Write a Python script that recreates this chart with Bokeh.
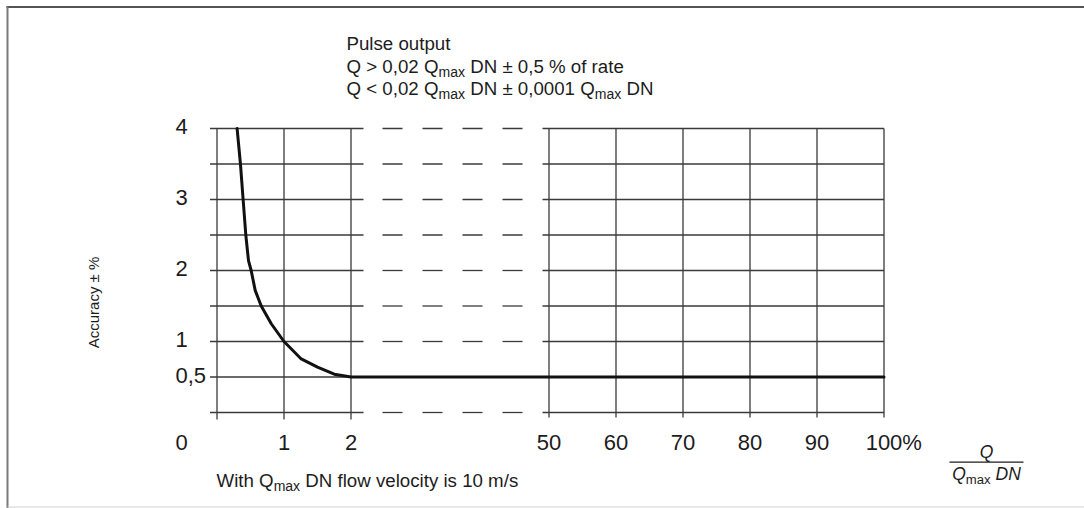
import numpy as np
from bokeh.plotting import figure
from bokeh.models import Range1d, ColumnDataSource
from bokeh.embed import file_html
from bokeh.resources import INLINE
from bokeh.core.properties import value

# ---------------------------------------------------------------- data
# Measuring accuracy (± % of rate) against flow Q as % of Qmax DN
flow_pct = [0.30, 0.35, 0.39, 0.43, 0.47, 0.51, 0.57, 0.66, 0.81, 1.0,
            1.25, 1.5, 1.75, 2.0, 50.0, 100.0]
accuracy_pct = [4.0, 3.5, 3.0, 2.5, 2.14, 2.0, 1.72, 1.5, 1.25, 1.0,
                0.76, 0.64, 0.54, 0.5, 0.5, 0.5]

accuracy_rows = [0, 0.5, 1, 1.5, 2, 2.5, 3, 3.5, 4]
y_ticks = [4, 3, 2, 1, 0.5]
y_tick_labels = ["4", "3", "2", "1", "0,5"]
low_flow_grid = [0, 1, 2]
low_flow_ticks = [1, 2]
low_flow_labels = ["1", "2"]
high_flow_ticks = [50, 60, 70, 80, 90, 100]
high_flow_labels = ["50", "60", "70", "80", "90", "100"]
origin_label = "0"

title_lines = [
    [("Pulse output", "n")],
    [("Q > 0,02 Q", "n"), ("max", "sub"), (" DN ± 0,5 % of rate", "n")],
    [("Q < 0,02 Q", "n"), ("max", "sub"), (" DN ± 0,0001 Q", "n"),
     ("max", "sub"), (" DN", "n")],
]
footnote = [("With Q", "n"), ("max", "sub"), (" DN flow velocity is 10 m/s", "n")]
y_title = "Accuracy ± %"

# ---------------------------------------------------------------- layout
W, H = 1084, 508
X_ZERO_PX, CELL_PX = 216.5, 67    # flow 0 and width of one grid cell
Y_ZERO_PX, UNIT_PX = 412, 71      # accuracy 0 and pixels per 1 %
LOW_END, HIGH_START, HIGH_STEP = 2.0, 50.0, 10.0
HIGH_START_POS = 332 / 67         # chart position of the 50 % column

FONT = "Liberation Sans"
INK = "#1c1c1c"
GRID = "#3a3a3a"
GRID_W = 1.3
BASE = 18.7
TICK = 22
SUB_SCALE, SUB_DROP = 0.75, 0.2
MID = 0.35                        # em-box middle above the baseline


def xpos(q):
    """Broken flow axis: 0..2 % on the left, 50..100 % on the right."""
    q = np.asarray(q, dtype=float)
    return np.where(q <= LOW_END, q, HIGH_START_POS + (q - HIGH_START) / HIGH_STEP)


def sx(px):
    return (px - X_ZERO_PX) / CELL_PX


def sy(py):
    return (Y_ZERO_PX - py) / UNIT_PX


# Arial / Liberation Sans advance widths (1/1000 em)
ADV = {" ": 278, "%": 889, ",": 278, ".": 278, "/": 278, "<": 584, ">": 584,
       "±": 549, "A": 667, "D": 722, "N": 722, "P": 667, "Q": 778, "W": 944,
       "a": 556, "c": 500, "e": 556, "f": 278, "h": 556, "i": 222, "l": 222,
       "m": 833, "o": 556, "p": 556, "r": 333, "s": 500, "t": 278, "u": 556,
       "v": 500, "w": 722, "x": 500, "y": 500}


def text_width(s, size):
    return sum(ADV.get(c, 556) for c in s) / 1000.0 * size


def run_layout(segments, left_px, baseline_py, size):
    """Place a run of normal / subscript / italic pieces along one baseline."""
    rows = []
    x = left_px
    for txt, kind in segments:
        sub = kind == "sub"
        fs = size * SUB_SCALE if sub else size
        base = baseline_py + (size * SUB_DROP if sub else 0.0)
        lead = len(txt) - len(txt.lstrip(" "))
        shown = txt.strip(" ")
        rows.append(dict(x=sx(x + text_width(" " * lead, fs)),
                         y=sy(base - MID * fs), text=shown,
                         size="%.2fpx" % fs, italic=(kind == "it")))
        x += text_width(txt, fs)
    return rows


def run_width(segments, size):
    return sum(text_width(t, size * SUB_SCALE if k == "sub" else size)
               for t, k in segments)


# ---------------------------------------------------------------- figure
p = figure(width=W, height=H, toolbar_location=None, output_backend="svg",
           x_range=Range1d(sx(0), sx(W)), y_range=Range1d(sy(H), sy(0)),
           x_axis_location=None, y_axis_location=None, min_border=0,
           outline_line_color=None, background_fill_color="white",
           border_fill_color="white")
p.grid.visible = False

# page frame
p.segment(x0=[sx(6), sx(7), sx(7)], y0=[sy(6.5), sy(6), sy(506.5)],
          x1=[sx(W), sx(7), sx(W)], y1=[sy(6.5), sy(H), sy(506.5)],
          line_color=["#555555", "#7a7a7a", "#d2d2d2"], line_width=[2, 2, 1.2])

n = len(accuracy_rows)
# horizontal grid: left block, broken section, right block
p.segment(x0=[sx(209.5)] * n, x1=[sx(363)] * n, y0=accuracy_rows, y1=accuracy_rows,
          line_color=GRID, line_width=GRID_W)
DASH_PX, DASH_PITCH_PX, DASH_FIRST_PX = 20, 40, 392
dash_x, dash_y = [], []
for row in accuracy_rows:
    for k in range(4):
        dash_x.append(sx(DASH_FIRST_PX + DASH_PITCH_PX * k))
        dash_y.append(row)
p.rect(x=dash_x, y=dash_y, width=DASH_PX / CELL_PX, height=GRID_W,
       height_units="screen", fill_color=GRID, line_color=None)
right_left = float(xpos(HIGH_START)) - 6.5 / CELL_PX
p.segment(x0=[right_left] * n, x1=[float(xpos(high_flow_ticks[-1]))] * n,
          y0=accuracy_rows, y1=accuracy_rows, line_color=GRID, line_width=GRID_W)

# vertical grid with tick stubs below the zero line
top = accuracy_rows[-1]
p.segment(x0=xpos(low_flow_grid), x1=xpos(low_flow_grid),
          y0=[sy(419)] * len(low_flow_grid), y1=[top] * len(low_flow_grid),
          line_color=GRID, line_width=GRID_W)
p.segment(x0=xpos(high_flow_ticks), x1=xpos(high_flow_ticks),
          y0=[sy(417)] * len(high_flow_ticks), y1=[top] * len(high_flow_ticks),
          line_color=GRID, line_width=GRID_W)

# accuracy curve
p.line(xpos(flow_pct), accuracy_pct, line_color="#111111", line_width=3,
       line_join="round", line_cap="round")

# tick labels (vertically centred on their cap height)
tick_font = dict(text_font=value(FONT), text_font_size="%dpx" % TICK,
                 text_color=INK, text_baseline="middle")
p.text(x=[sx(175)] * len(y_ticks), y=[t + 2.0 / UNIT_PX for t in y_ticks],
       text=y_tick_labels, text_align="left", **tick_font)
tick_mid = sy(441.7)
p.text(x=xpos(low_flow_ticks), y=[tick_mid] * len(low_flow_ticks),
       text=low_flow_labels, text_align="center", **tick_font)
p.text(x=xpos(high_flow_ticks), y=[tick_mid] * len(high_flow_ticks),
       text=high_flow_labels, text_align="center", **tick_font)
p.text(x=[float(xpos(high_flow_ticks[-1])) + text_width(high_flow_labels[-1], TICK) / 2 / CELL_PX],
       y=[tick_mid], text=["%"], text_align="left", **tick_font)
p.text(x=[sx(175)], y=[tick_mid], text=[origin_label], text_align="left", **tick_font)

# rich text blocks (title, footnote, axis quantity)
rows = []
for i, line in enumerate(title_lines):
    rows += run_layout(line, 346, 50 + 22.5 * i, BASE)
rows += run_layout(footnote, 216, 480 + 0.358 * BASE, BASE)

FR = 17.5
frac_mid = 986
rows += run_layout([("Q", "it")], frac_mid - text_width("Q", FR) / 2, 457.5, FR)
denominator = [("Q", "it"), ("max", "sub"), (" DN", "it")]
rows += run_layout(denominator, frac_mid - run_width(denominator, FR) / 2, 480, FR)
p.segment(x0=[sx(949)], x1=[sx(1023)], y0=[sy(461.7)], y1=[sy(461.7)],
          line_color=INK, line_width=1.3)

for italic in (False, True):
    sel = [r for r in rows if r["italic"] == italic]
    src = ColumnDataSource(dict(x=[r["x"] for r in sel], y=[r["y"] for r in sel],
                                text=[r["text"] for r in sel],
                                size=[r["size"] for r in sel]))
    p.text(x="x", y="y", text="text", source=src, text_font=value(FONT),
           text_font_size="size", text_color=INK, text_align="left",
           text_baseline="middle",
           text_font_style="italic" if italic else "normal")

# vertical quantity label
p.text(x=[sx(93)], y=[sy(302)], text=[y_title], angle=np.pi / 2,
       text_font=value(FONT), text_font_size="15px", text_color=INK,
       text_align="center", text_baseline="middle")

open("out.html", "w").write(file_html(p, INLINE))
